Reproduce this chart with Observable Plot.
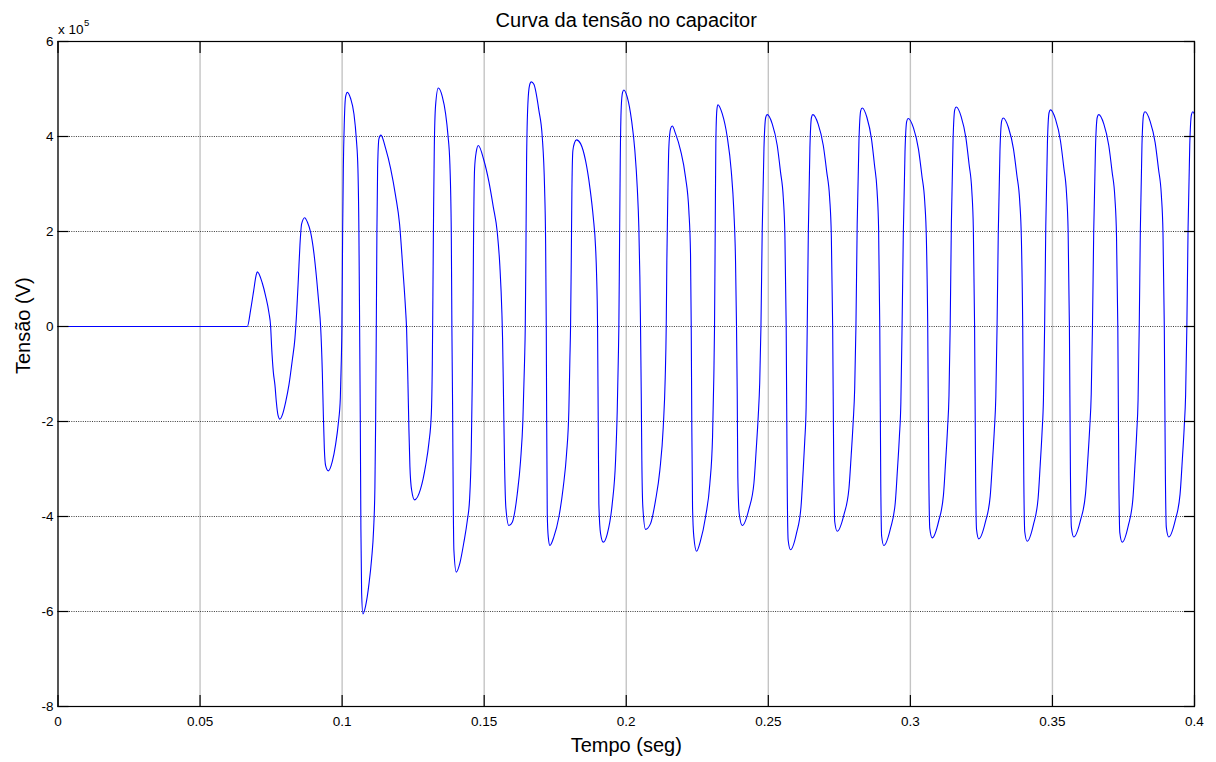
<!DOCTYPE html>
<html>
<head>
<meta charset="utf-8">
<script src="https://cdn.jsdelivr.net/npm/d3@7"></script>
<script src="https://cdn.jsdelivr.net/npm/@observablehq/plot@0.6"></script>
<style>
  html, body { margin: 0; padding: 0; background: #fff; }
  #chart svg { display: block; }
</style>
</head>
<body>
<div id="chart"></div>
<script>
// ---- Texts ----
const titulo = "Curva da tensão no capacitor";
const rotuloX = "Tempo (seg)";
const rotuloY = "Tensão (V)";
const multiplicador = "x 10";
const expoente = "5";

// ---- Tick values ----
const temposTicks = [0, 0.05, 0.1, 0.15, 0.2, 0.25, 0.3, 0.35, 0.4];
const tensaoTicks = [-8, -6, -4, -2, 0, 2, 4, 6];

// ---- Series: [tempo (s), tensão (x 10^5 V)] ----
const repouso = [[0, 0], [0.06664, 0]];

const transitorio = [
  [0.06780, 0.35], [0.06886, 0.75], [0.06974, 1.08], [0.07016, 1.15],
  [0.07192, 0.91], [0.07308, 0.64], [0.07424, 0.29], [0.07484, 0], [0.07519, -0.43], [0.07579, -0.96], [0.07635, -1.23], [0.07685, -1.59], [0.07741, -1.86], [0.07811, -1.95],
  [0.07896, -1.86], [0.08012, -1.59], [0.08128, -1.23], [0.08248, -0.70], [0.08339, -0.25], [0.08399, 0.29], [0.08459, 1.00], [0.08515, 1.71], [0.08575, 2.16], [0.08681, 2.29],
  [0.08776, 2.20], [0.08892, 1.98], [0.09008, 1.54], [0.09103, 1.00], [0.09184, 0.46], [0.09243, 0], [0.09303, -0.96], [0.09339, -1.86], [0.09374, -2.57], [0.09419, -2.93], [0.09514, -3.04],
  [0.09655, -2.84], [0.09771, -2.48], [0.09866, -2.04], [0.09937, -1.50], [0.09972, -0.70], [0.09993, 0], [0.10018, 1.98], [0.10042, 3.32], [0.10077, 4.30], [0.10123, 4.84], [0.10183, 4.93],
  [0.10299, 4.80], [0.10415, 4.48], [0.10500, 3.95], [0.10556, 3.32], [0.10591, 1.98], [0.10616, 0], [0.10640, -2.04], [0.10661, -4.27], [0.10686, -5.60], [0.10732, -6.05],
  [0.10827, -5.88], [0.10943, -5.43], [0.11038, -4.89], [0.11108, -4.27], [0.11154, -3.38], [0.11179, -2.04], [0.11203, 0], [0.11224, 1.98], [0.11249, 3.32], [0.11295, 3.95], [0.11365, 4.03],
  [0.11531, 3.75], [0.11706, 3.33], [0.11882, 2.75], [0.12023, 2.15], [0.12139, 1.20], [0.12234, 0.35], [0.12269, -0.05], [0.12315, -1.15], [0.12350, -2.15], [0.12386, -2.95], [0.12445, -3.44], [0.12551, -3.65],
  [0.12762, -3.42], [0.12938, -2.93], [0.13054, -2.45], [0.13139, -1.85], [0.13174, -0.79], [0.13195, 0.64], [0.13219, 2.43], [0.13244, 3.77], [0.13290, 4.66], [0.13385, 5.02]
];

const intermediario = [
  [0.13526, 4.84], [0.13642, 4.48], [0.13723, 4.04], [0.13793, 3.41], [0.13842, 1.98], [0.13863, 0], [0.13888, -1.68], [0.13913, -3.82], [0.13934, -4.71], [0.14018, -5.17],
  [0.14145, -4.98], [0.14286, -4.54], [0.14405, -4.09], [0.14486, -3.64], [0.14546, -2.57], [0.14581, -1.14], [0.14602, 0], [0.14627, 1.98], [0.14662, 3.32], [0.14722, 3.68], [0.14792, 3.81],
  [0.14989, 3.50], [0.15165, 3.05], [0.15320, 2.52], [0.15461, 1.98], [0.15552, 1.27], [0.15623, 0.29], [0.15647, -0.25], [0.15683, -1.59], [0.15718, -2.93], [0.15764, -3.82], [0.15869, -4.19],
  [0.15989, -4.12], [0.16165, -3.52], [0.16281, -2.82], [0.16362, -1.98], [0.16421, -0.72], [0.16446, 0], [0.16467, 1.39], [0.16492, 3.49], [0.16538, 4.69], [0.16598, 5.08], [0.16657, 5.15],
  [0.16749, 5.10], [0.16925, 4.55], [0.17044, 3.99], [0.17125, 2.93], [0.17160, 1.88], [0.17185, 0], [0.17196, -1.56], [0.17220, -3.94], [0.17255, -4.43], [0.17312, -4.61],
  [0.17452, -4.43], [0.17629, -4.01], [0.17783, -3.38], [0.17899, -2.68], [0.17980, -1.77], [0.18015, -0.72], [0.18040, 0], [0.18065, 1.39], [0.18086, 2.79], [0.18121, 3.70], [0.18181, 3.87], [0.18251, 3.93],
  [0.18392, 3.85], [0.18568, 3.49], [0.18719, 2.93], [0.18839, 2.30], [0.18920, 1.67], [0.18955, 1.11], [0.18990, 0], [0.19015, -2.12], [0.19036, -3.73], [0.19096, -4.36], [0.19191, -4.54],
  [0.19331, -4.37], [0.19507, -3.73], [0.19624, -2.82], [0.19683, -1.77], [0.19719, -0.72], [0.19740, 0], [0.19764, 1.74], [0.19789, 3.49], [0.19824, 4.62], [0.19870, 4.93], [0.19916, 4.98],
  [0.20035, 4.83], [0.20187, 4.34], [0.20302, 3.71], [0.20387, 2.93], [0.20443, 2.09], [0.20479, 1.04], [0.20503, 0], [0.20528, -1.42], [0.20549, -2.82], [0.20584, -3.80], [0.20679, -4.27],
  [0.20855, -4.15], [0.21031, -3.66], [0.21182, -3.03], [0.21302, -2.12], [0.21372, -1.07], [0.21407, 0], [0.21429, 1.39], [0.21464, 2.79], [0.21499, 3.77], [0.21559, 4.16], [0.21619, 4.22],
  [0.21735, 4.06], [0.21911, 3.71], [0.22087, 3.14], [0.22203, 2.44], [0.22262, 1.53], [0.22287, 0], [0.22308, -2.12], [0.22333, -3.80], [0.22379, -4.43], [0.22474, -4.73],
  [0.22614, -4.51], [0.22790, -4.01], [0.22942, -3.31], [0.23037, -2.33], [0.23082, -1.07], [0.23107, 0], [0.23132, 2.09], [0.23153, 3.85], [0.23188, 4.55], [0.23223, 4.67],
  [0.23378, 4.48], [0.23554, 3.99], [0.23695, 3.28], [0.23786, 2.44], [0.23846, 1.39], [0.23881, 0], [0.23906, -1.42], [0.23927, -3.17], [0.23976, -3.94], [0.24082, -4.19]
];

const regime = [
  [0.24319, -3.84], [0.24495, -3.29], [0.24574, -2.59], [0.24645, -1.89], [0.24697, -1.19], [0.24741, 0], [0.24785, 2.01], [0.24847, 3.76], [0.24908, 4.40], [0.24961, 4.46],
  [0.25141, 4.26], [0.25314, 3.81], [0.25428, 3.26], [0.25527, 2.71], [0.25584, 1.91], [0.25629, 0], [0.25666, -3.40], [0.25699, -4.50], [0.25781, -4.70],
  [0.25993, -4.35], [0.26150, -3.80], [0.26221, -3.10], [0.26283, -2.40], [0.26331, -1.70], [0.26370, 0], [0.26409, 2.01], [0.26464, 3.76], [0.26519, 4.40], [0.26566, 4.46],
  [0.26755, 4.26], [0.26935, 3.81], [0.27055, 3.26], [0.27158, 2.71], [0.27218, 1.91], [0.27265, 0], [0.27304, -3.01], [0.27338, -4.11], [0.27424, -4.31],
  [0.27662, -3.96], [0.27838, -3.41], [0.27917, -2.71], [0.27987, -2.01], [0.28040, -1.31], [0.28084, 0], [0.28128, 2.15], [0.28190, 3.90], [0.28251, 4.54], [0.28304, 4.60],
  [0.28471, 4.40], [0.28631, 3.95], [0.28737, 3.40], [0.28828, 2.85], [0.28882, 2.05], [0.28923, 0], [0.28958, -3.31], [0.28988, -4.41], [0.29064, -4.61],
  [0.29296, -4.26], [0.29468, -3.71], [0.29545, -3.01], [0.29614, -2.31], [0.29665, -1.61], [0.29708, 0], [0.29751, 1.93], [0.29811, 3.68], [0.29871, 4.32], [0.29923, 4.38],
  [0.30109, 4.18], [0.30286, 3.73], [0.30404, 3.18], [0.30505, 2.63], [0.30564, 1.83], [0.30611, 0], [0.30649, -3.15], [0.30683, -4.25], [0.30767, -4.45],
  [0.30995, -4.10], [0.31164, -3.55], [0.31240, -2.85], [0.31308, -2.15], [0.31359, -1.45], [0.31401, 0], [0.31443, 2.17], [0.31502, 3.92], [0.31561, 4.56], [0.31612, 4.62],
  [0.31787, 4.42], [0.31954, 3.97], [0.32065, 3.42], [0.32161, 2.87], [0.32216, 2.07], [0.32260, 0], [0.32296, -3.17], [0.32328, -4.27], [0.32407, -4.47],
  [0.32639, -4.12], [0.32810, -3.57], [0.32887, -2.87], [0.32956, -2.17], [0.33008, -1.47], [0.33051, 0], [0.33093, 1.94], [0.33153, 3.69], [0.33214, 4.33], [0.33265, 4.39],
  [0.33451, 4.19], [0.33628, 3.74], [0.33747, 3.19], [0.33848, 2.64], [0.33907, 1.84], [0.33954, 0], [0.33992, -3.22], [0.34026, -4.32], [0.34110, -4.52],
  [0.34331, -4.17], [0.34495, -3.62], [0.34569, -2.92], [0.34635, -2.22], [0.34684, -1.52], [0.34725, 0], [0.34766, 2.11], [0.34823, 3.86], [0.34881, 4.50], [0.34930, 4.56],
  [0.35110, 4.36], [0.35282, 3.91], [0.35397, 3.36], [0.35495, 2.81], [0.35552, 2.01], [0.35597, 0], [0.35634, -3.13], [0.35667, -4.23], [0.35749, -4.43],
  [0.35987, -4.08], [0.36163, -3.53], [0.36242, -2.83], [0.36312, -2.13], [0.36365, -1.43], [0.36409, 0], [0.36453, 2.01], [0.36515, 3.76], [0.36576, 4.40], [0.36629, 4.46],
  [0.36810, 4.26], [0.36983, 3.81], [0.37099, 3.26], [0.37198, 2.71], [0.37255, 1.91], [0.37301, 0], [0.37338, -3.24], [0.37371, -4.34], [0.37453, -4.54],
  [0.37670, -4.19], [0.37830, -3.64], [0.37902, -2.94], [0.37966, -2.24], [0.38014, -1.54], [0.38055, 0], [0.38095, 2.07], [0.38151, 3.82], [0.38207, 4.46], [0.38255, 4.52],
  [0.38439, 4.32], [0.38615, 3.87], [0.38732, 3.32], [0.38833, 2.77], [0.38891, 1.97], [0.38937, 0], [0.38975, -3.13], [0.39008, -4.23], [0.39092, -4.43],
  [0.39322, -4.08], [0.39492, -3.53], [0.39569, -2.83], [0.39637, -2.13], [0.39688, -1.43], [0.39731, 0], [0.39774, 2.07], [0.39833, 3.82], [0.39893, 4.46], [0.39944, 4.52],
  [0.40000, 4.47]
];

const dados = [...repouso, ...transitorio, ...intermediario, ...regime].map(([t, v]) => ({t, v}));

const fonte = "Helvetica, Arial, 'Liberation Sans', sans-serif";
const tamTick = 13.5;
const tamRotulo = 20;

const chart = Plot.plot({
  width: 1216,
  height: 762,
  marginLeft: 57.5,
  marginRight: 22,
  marginTop: 41,
  marginBottom: 56,
  style: {fontFamily: fonte, background: "#fff", color: "#000", overflow: "visible"},
  x: {domain: [0, 0.4], axis: null},
  y: {domain: [-8, 6], axis: null},
  marks: [
    Plot.ruleX(temposTicks, {stroke: "#c4c4c4", strokeWidth: 1.4}),
    Plot.ruleY(tensaoTicks, {stroke: "#3a3a3a", strokeWidth: 1, strokeDasharray: "1,1.3"}),
    Plot.line(dados, {x: "t", y: "v", stroke: "#0000ff", strokeWidth: 1.1, curve: "monotone-x"}),
    Plot.frame({stroke: "#000", strokeWidth: 1.2}),
    // tick labels
    Plot.axisX(temposTicks, {anchor: "bottom", tickSize: 0, tickPadding: 10, tickFormat: d => String(d), fontSize: tamTick, label: null}),
    Plot.axisY(tensaoTicks, {anchor: "left", tickSize: 0, tickPadding: 4.5, tickFormat: d => String(d), fontSize: tamTick, label: null}),
    // inward tick marks on all four sides
    Plot.axisX(temposTicks, {anchor: "bottom", tickSize: -11, tickFormat: () => "", label: null, strokeWidth: 1.2}),
    Plot.axisX(temposTicks, {anchor: "top", tickSize: -11, tickFormat: () => "", label: null, strokeWidth: 1.2}),
    Plot.axisY(tensaoTicks, {anchor: "left", tickSize: -11, tickFormat: () => "", label: null, strokeWidth: 1.2}),
    Plot.axisY(tensaoTicks, {anchor: "right", tickSize: -11, tickFormat: () => "", label: null, strokeWidth: 1.2}),
    // title & labels
    Plot.text([titulo], {text: d => d, frameAnchor: "top", lineAnchor: "middle", dy: -21, fontSize: tamRotulo}),
    Plot.text([rotuloX], {text: d => d, frameAnchor: "bottom", lineAnchor: "middle", dy: 39, fontSize: tamRotulo}),
    Plot.text([rotuloY], {text: d => d, frameAnchor: "left", lineAnchor: "middle", rotate: -90, dx: -34, fontSize: tamRotulo}),
    Plot.text([multiplicador], {text: d => d, frameAnchor: "top-left", lineAnchor: "middle", textAnchor: "start", dy: -12, fontSize: tamTick}),
    Plot.text([expoente], {text: d => d, frameAnchor: "top-left", lineAnchor: "middle", textAnchor: "start", dx: 26, dy: -19, fontSize: 9.5})
  ]
});

document.getElementById("chart").appendChild(chart);
</script>
</body>
</html>
